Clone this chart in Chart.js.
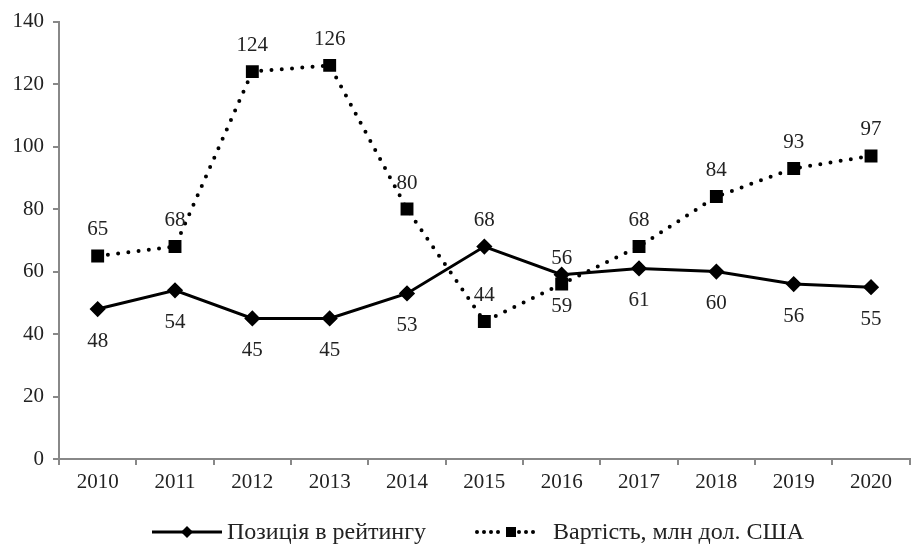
<!DOCTYPE html>
<html>
<head>
<meta charset="utf-8">
<script src="https://cdn.jsdelivr.net/npm/chart.js@4"></script>
<style>
  html, body { margin: 0; padding: 0; background: #fff; }
  #wrap { width: 920px; height: 545px; }
</style>
</head>
<body>
<div id="wrap"><canvas id="myChart" width="920" height="545"></canvas></div>
<script>
const years = ['2010', '2011', '2012', '2013', '2014', '2015', '2016', '2017', '2018', '2019', '2020'];
const rankPosition = [48, 54, 45, 45, 53, 68, 59, 61, 60, 56, 55];
const brandValue = [65, 68, 124, 126, 80, 44, 56, 68, 84, 93, 97];
// where each value label goes: -1 above the point, 1 below
const rankLabelSide = [1, 1, 1, 1, 1, -1, 1, 1, 1, 1, 1];
const valueLabelSide = [-1, -1, -1, -1, -1, -1, -1, -1, -1, -1, -1];
const legendNames = ['Позиція в рейтингу', 'Вартість, млн дол. США'];

const FONT = '"Liberation Serif", "Times New Roman", serif';

// value labels next to points
const valueLabels = {
    id: 'valueLabels',
    afterDatasetsDraw(chart) {
        const ctx = chart.ctx;
        ctx.save();
        ctx.font = '21px ' + FONT;
        ctx.fillStyle = '#222';
        ctx.textAlign = 'center';
        ctx.textBaseline = 'middle';
        chart.data.datasets.forEach((ds, i) => {
            const meta = chart.getDatasetMeta(i);
            const sides = ds.labelSide;
            meta.data.forEach((pt, j) => {
                const dy = sides[j] < 0 ? -26 : 32;
                ctx.fillText(String(ds.data[j]), pt.x, pt.y + dy);
            });
        });
        ctx.restore();
    }
};

// legend at the bottom: line sample with a marker in the middle
const bottomLegend = {
    id: 'bottomLegend',
    afterDraw(chart) {
        const ctx = chart.ctx;
        const y = 532;
        ctx.save();
        ctx.font = '24px ' + FONT;
        ctx.textBaseline = 'middle';
        ctx.textAlign = 'left';

        // solid line + diamond
        ctx.strokeStyle = '#000';
        ctx.fillStyle = '#000';
        ctx.lineWidth = 3;
        ctx.beginPath();
        ctx.moveTo(152, y);
        ctx.lineTo(222, y);
        ctx.stroke();
        ctx.beginPath();
        ctx.moveTo(187, y - 6);
        ctx.lineTo(193, y);
        ctx.lineTo(187, y + 6);
        ctx.lineTo(181, y);
        ctx.closePath();
        ctx.fill();
        ctx.fillStyle = '#222';
        ctx.fillText(legendNames[0], 227, y + 1);

        // dotted line + square
        ctx.fillStyle = '#000';
        [477, 484, 491, 498, 519, 526, 533].forEach(x => {
            ctx.beginPath();
            ctx.arc(x, y, 2, 0, Math.PI * 2);
            ctx.fill();
        });
        ctx.fillRect(506, y - 5, 10, 10);
        ctx.fillStyle = '#222';
        ctx.fillText(legendNames[1], 553, y + 1);
        ctx.restore();
    }
};

const ctx = document.getElementById('myChart').getContext('2d');
new Chart(ctx, {
    type: 'line',
    data: {
        labels: years,
        datasets: [
            {
                label: legendNames[0],
                data: rankPosition,
                labelSide: rankLabelSide,
                borderColor: '#000',
                backgroundColor: '#000',
                borderWidth: 3,
                pointStyle: 'rectRot',
                pointRadius: 6,
                pointHoverRadius: 6,
                tension: 0
            },
            {
                label: legendNames[1],
                data: brandValue,
                labelSide: valueLabelSide,
                borderColor: '#000',
                backgroundColor: '#000',
                borderWidth: 4,
                borderDash: [0, 10.3],
                borderCapStyle: 'round',
                pointStyle: 'rect',
                pointRadius: 6.3,
                pointHoverRadius: 6.3,
                tension: 0
            }
        ]
    },
    options: {
        responsive: false,
        animation: false,
        layout: { padding: { top: 20, right: -8, left: 2, bottom: 0 } },
        plugins: {
            legend: { display: false },
            tooltip: { enabled: false }
        },
        scales: {
            x: {
                offset: true,
                afterFit(scale) { scale.height = 86; },
                border: { color: '#888', width: 2 },
                grid: {
                    offset: true,
                    drawOnChartArea: false,
                    drawTicks: true,
                    tickLength: 6,
                    color: '#888',
                    lineWidth: 2
                },
                ticks: {
                    color: '#222',
                    padding: 5,
                    maxRotation: 0,
                    font: { family: FONT, size: 21 }
                }
            },
            y: {
                min: 0,
                max: 140,
                afterFit(scale) { scale.width = 57; },
                border: { color: '#888', width: 2 },
                grid: {
                    drawOnChartArea: false,
                    drawTicks: true,
                    tickLength: 6,
                    color: '#888',
                    lineWidth: 2
                },
                ticks: {
                    stepSize: 20,
                    color: '#222',
                    padding: 9,
                    font: { family: FONT, size: 21 }
                }
            }
        }
    },
    plugins: [valueLabels, bottomLegend]
});
</script>
</body>
</html>
